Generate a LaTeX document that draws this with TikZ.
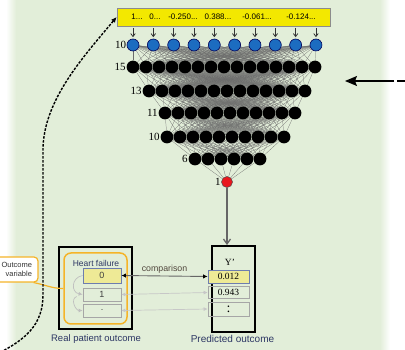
\documentclass[tikz,border=0pt]{standalone}
\usepackage{fontspec}
\setmainfont{Liberation Serif}
\setsansfont{Liberation Sans}
\usetikzlibrary{arrows.meta,calc}

\definecolor{bggreen}{RGB}{226,238,217}
\definecolor{inyellow}{RGB}{243,232,0}
\definecolor{nodeblue}{RGB}{28,108,192}
\definecolor{nodered}{RGB}{232,24,30}
\definecolor{cellyellow}{RGB}{238,234,150}
\definecolor{cellblue}{RGB}{110,125,175}
\definecolor{hforange}{RGB}{245,180,40}
\definecolor{labelnavy}{RGB}{45,55,100}
\definecolor{cmpbrown}{RGB}{80,70,60}

\pgfdeclarelayer{bg}
\pgfdeclarelayer{edges}
\pgfsetlayers{bg,edges,main}

\tikzset{
  inp/.style={circle, draw=blue!35!black, fill=nodeblue, line width=0.6pt, minimum size=12pt, inner sep=0pt},
  hid/.style={circle, fill=black, minimum size=12.8pt, inner sep=0pt},
  outn/.style={circle, draw=black!70, fill=nodered, line width=0.5pt, minimum size=11pt, inner sep=0pt},
  conn/.style={black!58, line width=0.22pt},
  laylbl/.style={font=\fontsize{11}{11}\selectfont, inner sep=0.5pt, anchor=east},
  intext/.style={font=\sffamily\fontsize{8}{8}\selectfont, inner sep=0pt},
  feedarr/.style={black!80, line width=0.8pt, shorten <=1.5pt, shorten >=1.5pt, -{Straight Barb[length=3pt,width=4.5pt]}},
  frame/.style={draw=black, line width=1.8pt, inner sep=0pt},
  cellbox/.style={draw=black!35, line width=0.7pt, inner sep=0pt},
  cellhi/.style={draw=cellblue, fill=cellyellow, line width=0.8pt, inner sep=0pt},
  sanslbl/.style={font=\sffamily\fontsize{9.5}{9.5}\selectfont, text=labelnavy, inner sep=0pt},
  faintarr/.style={black!22, line width=0.7pt, {Latex[length=4pt,width=4pt]}-{Latex[length=4pt,width=4pt]}},
  loopline/.style={black!25, line width=0.7pt, -{Latex[length=4pt,width=4pt]}},
}

\begin{document}
\begin{tikzpicture}[x=1pt,y=-1pt]
\useasboundingbox (0,0) rectangle (405,350);

% backdrop with soft left and right edges
\begin{pgfonlayer}{bg}
  \shade[left color=white, right color=bggreen] (6,0) rectangle (16,350);
  \fill[bggreen] (16,0) rectangle (380,350);
  \shade[left color=bggreen, right color=white] (380,0) rectangle (390,350);
\end{pgfonlayer}

% input vector
\node[draw=black!45, line width=0.7pt, fill=inyellow, minimum width=213pt, minimum height=18pt, inner sep=0pt] (inbox) at (223.5,17) {};
\node[intext] (t1) at (137,16.5) {1...};
\node[intext] (t2) at (155,16.5) {0...};
\node[intext] (t3) at (183,16.5) {-0.250...};
\node[intext] (t4) at (218,16.5) {0.388...};
\node[intext] (t5) at (257,16.5) {-0.061...};
\node[intext] (t6) at (301,16.5) {-0.124...};

% input layer
\foreach \i in {1,...,10}
  \node[inp] (a\i) at ({133+(\i-1)*20.33},45) {};
\node[laylbl] (la) at (a1.west) {10};

% hidden layers
\foreach \nm/\n/\xs/\yy in {b/15/133/67, c/13/149/91, d/11/165/113, e/10/167/137, f/6/195/159}
  \foreach \i in {1,...,\n}
    \node[hid] (\nm\i) at ({\xs+(\i-1)*13},\yy) {};
\node[laylbl] (lb) at (b1.west) {15};
\node[laylbl] (lc) at (c1.west) {13};
\node[laylbl] (ld) at (d1.west) {11};
\node[laylbl] (le) at (e1.west) {10};
\node[laylbl] (lf) at (f1.west) {6};

% output neuron
\node[outn] (g1) at (227,182) {};
\node[laylbl] (lg) at (g1.west) {1};

% full connections between consecutive layers
\begin{pgfonlayer}{edges}
  \foreach \p/\np/\q/\nq in {a/10/b/15, b/15/c/13, c/13/d/11, d/11/e/10, e/10/f/6, f/6/g/1}
    \foreach \i in {1,...,\np}
      \foreach \j in {1,...,\nq}
        \draw[conn] (\p\i) -- (\q\j);
\end{pgfonlayer}

% values fed into the input layer
\foreach \i in {1,...,10}
  \draw[feedarr] (inbox.south -| a\i) -- (a\i.north);

% predicted outcome column
\node[frame, minimum width=43pt, minimum height=86pt] (pbox) at (233.5,289) {};
\node[font=\fontsize{9.5}{9.5}\selectfont, inner sep=0pt] (yp) at (230,262) {Y'};
\node[cellhi, minimum width=41pt, minimum height=13pt, font=\fontsize{9.5}{9.5}\selectfont] (p1) at (228.5,276.5) {0.012};
\node[cellbox, minimum width=41pt, minimum height=12pt, font=\fontsize{9.5}{9.5}\selectfont] (p2) at (228.5,292.5) {0.943};
\node[cellbox, minimum width=41pt, minimum height=14pt, font=\fontsize{14}{14}\selectfont] (p3) at (228.5,309) {:};
\node[sanslbl, font=\sffamily\fontsize{10}{10}\selectfont] (plbl) at (232.5,339) {Predicted outcome};

\draw[black!60, line width=1.3pt, -{Straight Barb[length=5pt,width=7pt]}] (g1) -- (g1 |- pbox.north);

% real patient outcome column
\node[frame, minimum width=73pt, minimum height=82pt] (rbox) at (95.5,288) {};
\node[draw=hforange, line width=1.5pt, rounded corners=7pt, minimum width=63pt, minimum height=71pt, inner sep=0pt] (hfbox) at (95.5,288.5) {};
\node[sanslbl, font=\sffamily\fontsize{8.5}{8.5}\selectfont] (hft) at (96,263) {Heart failure};
\node[cellhi, minimum width=38pt, minimum height=15pt, font=\sffamily\fontsize{9}{9}\selectfont, text=black!75] (r1) at (102,275.5) {0};
\node[cellbox, minimum width=38pt, minimum height=13pt, font=\sffamily\fontsize{9}{9}\selectfont, text=black!75] (r2) at (102,294.5) {1};
\node[cellbox, minimum width=38pt, minimum height=13pt, font=\sffamily\fontsize{9}{9}\selectfont, text=black!75] (r3) at (102,310.5) {.};
\node[sanslbl] (rlbl) at (96,339) {Real patient outcome};

\draw[loopline] (r1.west) to[out=190, in=170, looseness=1.6] (r2.west);
\draw[loopline] ($(r2.west)+(-6pt,-2pt)$) to[out=200, in=180, looseness=1.2] (r3.west);

% comparison between real and predicted values
\draw[black!60, line width=0.9pt, {Latex[length=4.5pt,width=4.5pt,black]}-{Latex[length=4.5pt,width=4.5pt,black]}] (r1.east) -- (p1.west)
  node[midway, above=2pt, font=\sffamily\fontsize{8.8}{8.8}\selectfont, text=cmpbrown, inner sep=0pt] (cmp) {comparison};
\draw[faintarr] (r2.east) -- (p2.west);
\draw[faintarr] (r3.east) -- (p3.west);

% outcome variable tag
\node[draw=hforange, line width=1.2pt, fill=white, rounded corners=4pt, text width=44pt, align=right,
      minimum height=25pt, inner xsep=6pt, inner ysep=2pt, font=\sffamily\fontsize{7.5}{9}\selectfont, text=black!80] (outlbl) at (10,269.5) {Outcome\\variable};
\draw[hforange, line width=1.2pt] ($(outlbl.south east)+(-5pt,0)$) to[out=-10, in=180] (hfbox.west);

% loop back from the outcome to the input vector
\coordinate (dstart) at (-3,354);
\draw[black, line width=1.4pt, dash pattern=on 2.6pt off 1.4pt, -{Latex[length=5.5pt,width=5pt]}]
  (dstart) .. controls (25,340) and (43,325) .. (43,295) -- (43,150) .. controls (43,100) and (85,55) .. (inbox.west);

% pointer from the right margin
\coordinate (rstart) at (406,81);
\coordinate (rtip) at (345,81);
\draw[black, line width=1.2pt, dash pattern=on 9pt off 3pt on 80pt, -{Stealth[length=12pt,width=10pt,inset=2pt]}] (rstart) -- (rtip);

\end{tikzpicture}
\end{document}
